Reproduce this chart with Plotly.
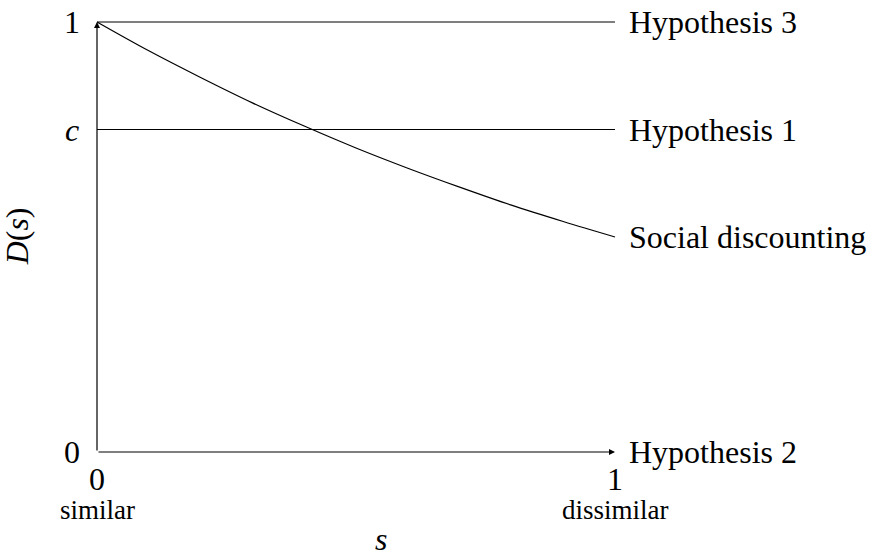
import plotly.graph_objects as go

# ---- data ----
s_grid = [0.0, 0.1, 0.2, 0.3, 0.4, 0.5, 0.6, 0.7, 0.8, 0.9, 1.0]
social_discounting = [1.0, 0.933, 0.871, 0.812, 0.758, 0.707, 0.660, 0.616, 0.574, 0.536, 0.5]
c_level = 0.75
hyp3_level = 1.0
hyp2_level = 0.0
x_ticks = [0, 1]
x_tick_text = ["0", "1"]
x_tick_sub = ["similar", "dissimilar"]
y_ticks = [0, c_level, 1]
y_tick_text = ["0", "<i>c</i>", "1"]
series_names = ["Hypothesis 3", "Hypothesis 1", "Social discounting", "Hypothesis 2"]
series_ends = [hyp3_level, c_level, social_discounting[-1], hyp2_level]

FONT = "Liberation Serif"
BIG = 32
SMALL = 27
LW = 1.2

fig = go.Figure()

# horizontal hypothesis lines
fig.add_trace(go.Scatter(x=[0, 1], y=[hyp3_level, hyp3_level], mode="lines",
                         line=dict(color="black", width=LW), hoverinfo="skip"))
fig.add_trace(go.Scatter(x=[0, 1], y=[c_level, c_level], mode="lines",
                         line=dict(color="black", width=LW), hoverinfo="skip"))
# social discounting curve
fig.add_trace(go.Scatter(x=s_grid, y=social_discounting, mode="lines",
                         line=dict(color="black", width=LW, shape="spline"), hoverinfo="skip"))

# axes with arrows
fig.add_annotation(x=1, y=hyp2_level, ax=0, ay=hyp2_level, xref="x", yref="y",
                   axref="x", ayref="y", text="", showarrow=True,
                   arrowhead=2, arrowsize=1, arrowwidth=LW, arrowcolor="black")
fig.add_annotation(x=0, y=1, ax=0, ay=0, xref="x", yref="y",
                   axref="x", ayref="y", text="", showarrow=True,
                   arrowhead=2, arrowsize=1, arrowwidth=LW, arrowcolor="black")

# y tick labels
for yv, txt in zip(y_ticks, y_tick_text):
    fig.add_annotation(x=-0.048, y=yv, xref="x", yref="y", text=txt, showarrow=False,
                       xanchor="center", yanchor="middle",
                       font=dict(family=FONT, size=BIG, color="black"))

# x tick labels
for xv, txt, sub in zip(x_ticks, x_tick_text, x_tick_sub):
    fig.add_annotation(x=xv, y=-0.062, xref="x", yref="y", text=txt, showarrow=False,
                       xanchor="center", yanchor="middle",
                       font=dict(family=FONT, size=BIG, color="black"))
    fig.add_annotation(x=xv, y=-0.134, xref="x", yref="y", text=sub, showarrow=False,
                       xanchor="center", yanchor="middle",
                       font=dict(family=FONT, size=SMALL, color="black"))

# series labels at the right end
for name, yv in zip(series_names, series_ends):
    fig.add_annotation(x=1.023, y=yv, xref="x", yref="y", text=name, showarrow=False,
                       xanchor="left", yanchor="middle",
                       font=dict(family=FONT, size=BIG, color="black"))

# axis titles
fig.add_annotation(x=0.548, y=0, xref="x", yref="paper", text="<i>s</i>", showarrow=False,
                   xanchor="center", yanchor="bottom",
                   font=dict(family=FONT, size=BIG, color="black"))
fig.add_annotation(x=-0.154, y=0.502, xref="x", yref="y", text="<i>D</i>(<i>s</i>)",
                   showarrow=False, textangle=-90, xanchor="center", yanchor="middle",
                   font=dict(family=FONT, size=BIG, color="black"))

fig.update_layout(
    width=875, height=559,
    margin=dict(l=0, r=0, t=0, b=0),
    paper_bgcolor="white", plot_bgcolor="white",
    showlegend=False,
    xaxis=dict(range=[-97 / 518, (875 - 97) / 518], visible=False, fixedrange=True),
    yaxis=dict(range=[(452 - 559) / 430, 452 / 430], visible=False, fixedrange=True),
)

fig.write_html("out.html",
               config={"displayModeBar": False, "staticPlot": True},
               post_script="document.body.style.margin='0';document.body.style.overflow='hidden';")
